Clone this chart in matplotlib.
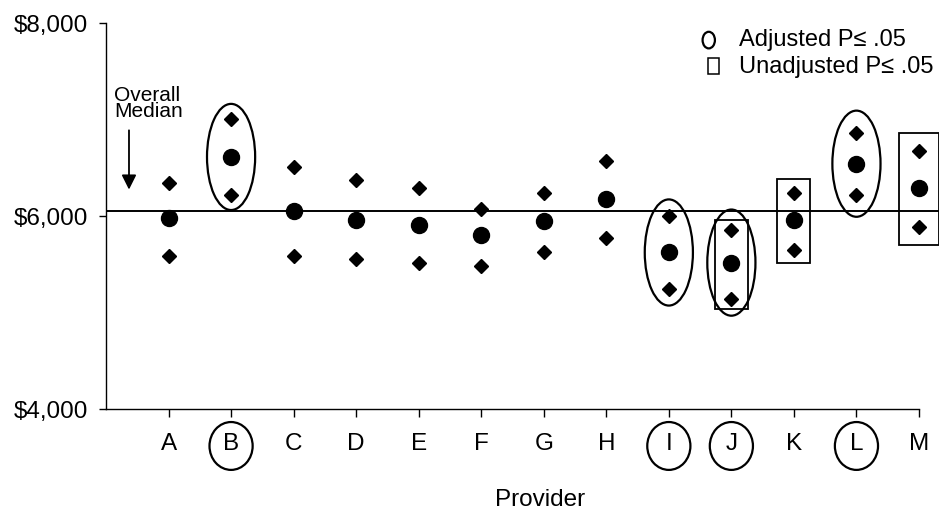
import matplotlib
matplotlib.use("Agg")
import matplotlib.pyplot as plt
from matplotlib.patches import Ellipse, Rectangle
from matplotlib.transforms import blended_transform_factory

plt.rcParams["font.family"] = ["Liberation Sans", "DejaVu Sans"]

# values (cost per provider, $)
providers = ["A", "B", "C", "D", "E", "F", "G", "H", "I", "J", "K", "L", "M"]
upper = [6350, 7005, 6510, 6380, 6290, 6080, 6240, 6570, 6000, 5855, 6245, 6865, 6675]
point = [5980, 6615, 6050, 5965, 5910, 5805, 5950, 6175, 5625, 5520, 5960, 6545, 6295]
lower = [5590, 6220, 5590, 5560, 5515, 5490, 5630, 5770, 5245, 5145, 5655, 6220, 5890]
overall_median = 6060
adjusted = ["B", "I", "J", "L"]      # circled
unadjusted = ["J", "K", "M"]         # boxed
yticks = [4000, 6000, 8000]
yticklabels = ["$4,000", "$6,000", "$8,000"]

FS = 17.5
fig = plt.figure(figsize=(9.39, 5.15), dpi=100)
ax = fig.add_axes([106 / 939, (515 - 409.3) / 515, 833 / 939, 386 / 515])

xs = list(range(1, len(providers) + 1))
ax.set_xlim(0, 13.32)
ax.set_ylim(4000, 8000)

ax.axhline(overall_median, color="black", lw=1.4, zorder=1)
ax.plot(xs, upper, "D", color="black", ms=7, zorder=3)
ax.plot(xs, lower, "D", color="black", ms=7, zorder=3)
ax.plot(xs, point, "o", color="black", ms=11.5, zorder=3)

# significance markers
for p in adjusted:
    i = providers.index(p)
    ax.add_patch(Ellipse((xs[i], point[i]), 0.77, 1100, fill=False, lw=1.6, ec="black", zorder=2))
box_w = {"J": 0.53, "K": 0.53, "M": 0.65}
box_pad = {"J": 110, "K": 140, "M": 190}
for p in unadjusted:
    i = providers.index(p)
    w, pad = box_w[p], box_pad[p]
    ax.add_patch(Rectangle((xs[i] - w / 2, lower[i] - pad), w, upper[i] - lower[i] + 2 * pad,
                           fill=False, lw=1.3, ec="black", zorder=2))

# axes
for s in ("top", "right"):
    ax.spines[s].set_visible(False)
ax.spines["bottom"].set_bounds(0, 13)
ax.spines["left"].set_linewidth(1.0)
ax.spines["bottom"].set_linewidth(1.0)
ax.set_xticks(xs)
ax.set_xticklabels(providers, fontsize=FS)
ax.set_yticks(yticks)
ax.set_yticklabels(yticklabels, fontsize=FS)
ax.tick_params(axis="x", length=6, width=1, pad=11)
ax.tick_params(axis="y", length=5, width=1, pad=8)
ax.set_xlabel("Provider", fontsize=FS)
ax.xaxis.set_label_coords(0.521, -0.207)

# circles around significant tick labels
bt = blended_transform_factory(ax.transData, ax.transAxes)
for p in adjusted:
    i = providers.index(p)
    ax.add_patch(Ellipse((xs[i], -0.095), 0.69, 0.124, transform=bt, fill=False,
                         lw=1.6, ec="black", clip_on=False))

# overall median note
ax.text(0.0096, 0.838, "Overall\nMedian", transform=ax.transAxes, ha="left", va="top",
        fontsize=15, linespacing=0.82)
ax.annotate("", xy=(0.0276, 0.562), xytext=(0.0276, 0.73), xycoords="axes fraction",
            arrowprops=dict(arrowstyle="-|>", color="black", lw=1.3, mutation_scale=22))

# legend
ax.add_patch(Ellipse((0.7236, 0.9565), 0.0148, 0.043, transform=ax.transAxes, fill=False,
                     lw=1.6, ec="black", clip_on=False))
ax.add_patch(Rectangle((0.7227, 0.8687), 0.0132, 0.0407, transform=ax.transAxes, fill=False,
                       lw=1.1, ec="black", clip_on=False))
ax.text(0.7603, 0.9567, "Adjusted P≤ .05", transform=ax.transAxes, ha="left", va="center",
        fontsize=17)
ax.text(0.7603, 0.8876, "Unadjusted P≤ .05", transform=ax.transAxes, ha="left", va="center",
        fontsize=17)

fig.savefig("out.png", dpi=100, facecolor="white")
